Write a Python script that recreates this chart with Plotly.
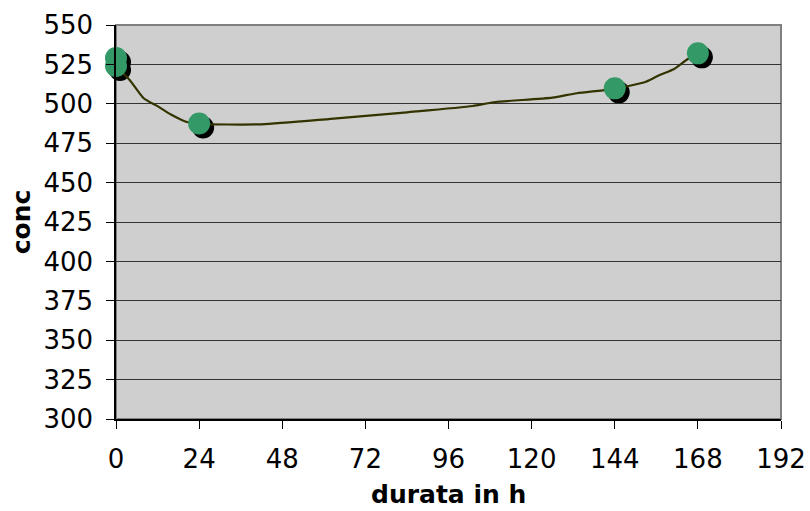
import plotly.graph_objects as go

# measured points
hours = [0, 0, 24, 144, 168]
conc = [529, 524, 487.5, 509.8, 532]

# smoothed curve
curve_h = [0, 4, 8, 12, 16, 20, 24, 42, 62, 84, 103, 109, 126, 133, 144, 153, 157, 161, 165, 168]
curve_c = [524, 515, 503.5, 498.5, 493, 488.8, 487.3, 487, 490.4, 494.6, 498.6, 501, 503.9, 506.7, 509.5, 514, 518.3, 521.9, 528.3, 532]

x_ticks = [0, 24, 48, 72, 96, 120, 144, 168, 192]
y_ticks = [300, 325, 350, 375, 400, 425, 450, 475, 500, 525, 550]

x_title = "durata in h"
y_title = "conc"

W, H = 810, 511
ML, MR, MT, MB = 116, 29, 25, 92
pw, ph = W - ML - MR, H - MT - MB
xr = [0, 192]
yr = [300, 550]
shadow_px = 4
dx = shadow_px * (xr[1] - xr[0]) / pw
dy = shadow_px * (yr[1] - yr[0]) / ph

font = "DejaVu Sans, Verdana, sans-serif"

fig = go.Figure()
# drop shadow of the markers: same points pushed a few pixels right/down
fig.add_trace(go.Scatter(x=[h + dx for h in hours], y=[c - dy for c in conc], mode="markers",
                         marker=dict(size=22, color="black"), cliponaxis=False,
                         showlegend=False, hoverinfo="skip"))
fig.add_trace(go.Scatter(x=curve_h, y=curve_c, mode="lines",
                         line=dict(color="#333300", width=2.2, shape="spline", smoothing=0.6),
                         showlegend=False))
fig.add_trace(go.Scatter(x=hours, y=conc, mode="markers",
                         marker=dict(size=22, color="#339966"), cliponaxis=False,
                         showlegend=False))

fig.update_layout(
    width=W, height=H,
    margin=dict(l=ML, r=MR, t=MT, b=MB, autoexpand=False),
    paper_bgcolor="white", plot_bgcolor="#CFCFCF",
    font=dict(family=font, size=26, color="black"),
    xaxis=dict(range=xr, tickvals=x_ticks, ticktext=[str(v) for v in x_ticks],
               automargin=False,
               showgrid=False, zeroline=False, showline=True, linecolor="black", linewidth=1.5,
               ticks="outside", ticklen=16, tickcolor="rgba(0,0,0,0)", tickfont=dict(size=26),
               minor=dict(tickvals=x_ticks, ticks="outside", ticklen=8, tickcolor="black",
                          showgrid=False)),
    yaxis=dict(range=yr, tickvals=y_ticks, ticktext=[str(v) for v in y_ticks],
               automargin=False,
               showgrid=True, gridcolor="#333333", gridwidth=1, zeroline=False,
               showline=True, linecolor="black", linewidth=1.5,
               ticks="outside", ticklen=16, tickcolor="rgba(0,0,0,0)", tickfont=dict(size=26),
               minor=dict(tickvals=y_ticks, ticks="outside", ticklen=8, tickcolor="black",
                          showgrid=False),
               title=dict(text="<b>" + y_title + "</b>", font=dict(size=25), standoff=6)),
    annotations=[dict(text="<b>" + x_title + "</b>", xref="x domain", yref="y domain",
                      x=0.5, y=-75 / ph, xanchor="center", yanchor="middle",
                      showarrow=False, font=dict(size=25))],
    shapes=[dict(type="rect", xref="x domain", yref="y domain", x0=0, x1=1, y0=0, y1=1,
                 line=dict(color="#808080", width=2), layer="below")],
)

fig.write_html("out.html")
